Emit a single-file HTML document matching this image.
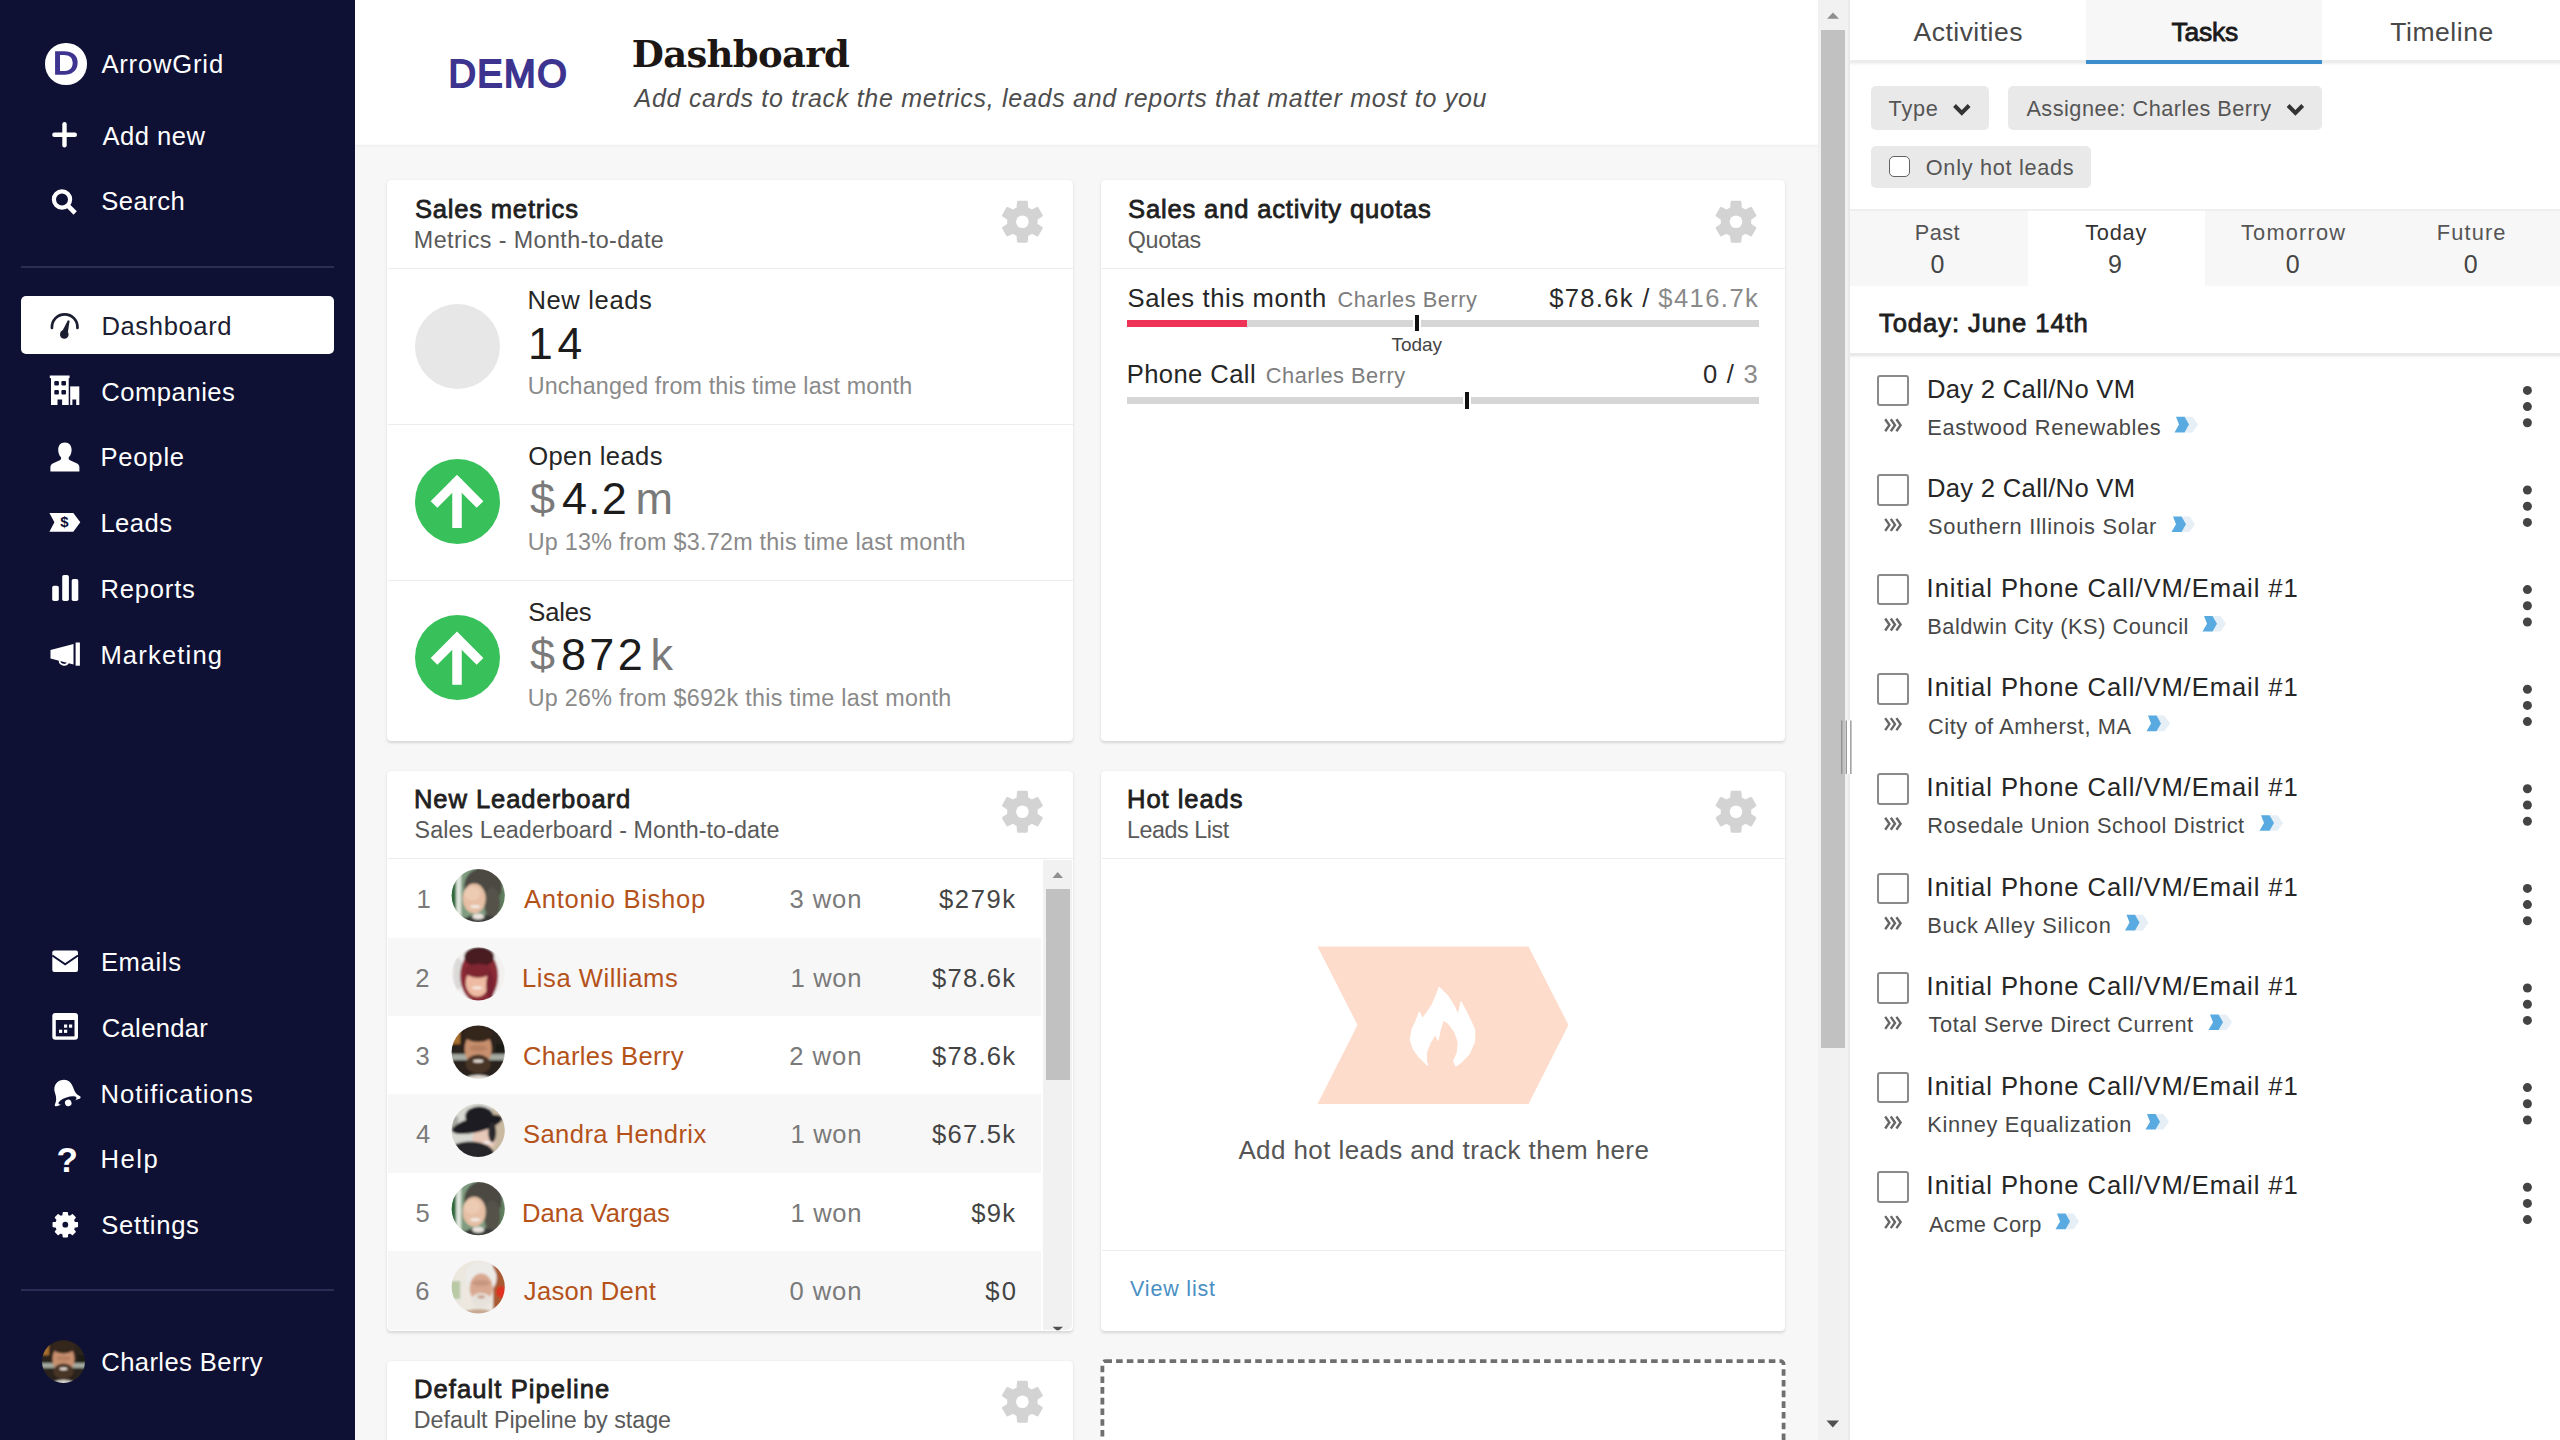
<!DOCTYPE html><html lang="en"><head><meta charset="utf-8"><title>Dashboard</title><style>
html,body{margin:0;padding:0}
body{width:2560px;height:1440px;overflow:hidden;position:relative;background:#f7f7f7;font-family:"Liberation Sans",sans-serif}
.t{position:absolute;white-space:pre;display:block}
.abs{position:absolute}
#side{position:absolute;left:0;top:0;width:355px;height:1440px;background:#0e1034}
#hdr{position:absolute;left:355px;top:0;width:1463px;height:144px;background:#fff}
#hdr:after{content:'';position:absolute;left:0;top:144px;width:100%;height:4px;background:linear-gradient(#fff,#efefef 45%,#f4f4f4 70%,#f7f7f7)}
.card{position:absolute;background:#fff;border-radius:4px;box-shadow:0 1.5px 3px rgba(0,0,0,.13),0 0 1px rgba(0,0,0,.06)}
.hl{position:absolute;height:1.6px;background:#ececec}
#right{position:absolute;left:1850px;top:0;width:710px;height:1440px;background:#fff}
.btn{position:absolute;background:#e9e9e9;border-radius:5px}
.cb{position:absolute;box-sizing:border-box;background:#fff;border:2px solid #8a8a8a;border-radius:3px}
svg{position:absolute;left:0;top:0;overflow:visible}
</style></head><body>
<div id="hdr"></div>
<div class="card" style="left:386.8px;top:180.4px;width:685.8px;height:560.2px"></div>
<div class="card" style="left:1100.8px;top:180.4px;width:684.6px;height:560.2px"></div>
<div class="card" style="left:386.8px;top:770.5px;width:685.8px;height:560.2px"></div>
<div class="card" style="left:1100.8px;top:770.5px;width:684.6px;height:560.2px"></div>
<div class="card" style="left:386.8px;top:1360.6px;width:685.8px;height:200px"></div>
<div class="hl" style="left:387.5px;top:267.5px;width:685px"></div>
<div class="hl" style="left:1101.5px;top:267.5px;width:684px"></div>
<div class="hl" style="left:387.5px;top:857.5px;width:685px"></div>
<div class="hl" style="left:1101.5px;top:857.5px;width:684px"></div>
<div class="hl" style="left:387.5px;top:423.7px;width:685px"></div>
<div class="hl" style="left:387.5px;top:579.6px;width:685px"></div>
<div class="hl" style="left:1101.5px;top:1249.5px;width:684px"></div>
<div class="abs" style="left:387.5px;top:937.8px;width:653.2px;height:78.3px;background:#f7f7f7"></div>
<div class="abs" style="left:387.5px;top:1094.4px;width:653.2px;height:78.3px;background:#f7f7f7"></div>
<div class="abs" style="left:387.5px;top:1251.0px;width:653.2px;height:79.3px;background:#f7f7f7"></div>
<div class="abs" style="left:1043px;top:859.5px;width:29px;height:470.8px;background:#f1f1f1;border-bottom-right-radius:5px"></div>
<div class="abs" style="left:1045.5px;top:889px;width:24.5px;height:190.8px;background:#c1c1c1"></div>
<div class="abs" style="left:1100.5px;top:1359.3px;width:685px;height:200px;background:#fff;border-radius:4px"></div>
<div class="abs" style="left:1126.7px;top:320px;width:632px;height:7px;background:#d6d6d6"></div>
<div class="abs" style="left:1126.7px;top:320px;width:120.3px;height:7px;background:#ee3356"></div>
<div class="abs" style="left:1412.5px;top:315px;width:4px;height:16px;background:#111;border-left:2px solid #fff;border-right:2px solid #fff"></div>
<div class="abs" style="left:1126.7px;top:397.3px;width:632px;height:7px;background:#d6d6d6"></div>
<div class="abs" style="left:1463.3px;top:391.5px;width:4px;height:17px;background:#111;border-left:2px solid #fff;border-right:2px solid #fff"></div>
<div class="abs" style="left:414.5px;top:304px;width:85px;height:85px;border-radius:50%;background:#e8e7e8"></div>
<div class="abs" style="left:414.5px;top:458.5px;width:85px;height:85px;border-radius:50%;background:#38c05a"></div>
<div class="abs" style="left:414.5px;top:615.3px;width:85px;height:85px;border-radius:50%;background:#38c05a"></div>
<div class="abs" style="left:1817.5px;top:0;width:30px;height:1440px;background:#f1f1f1"></div>
<div class="abs" style="left:1847.5px;top:0;width:3px;height:1440px;background:#e9e9eb"></div>
<div class="abs" style="left:1821px;top:29.5px;width:24px;height:1018px;background:#c1c1c1"></div>
<div id="right"></div>
<div class="abs" style="left:2086px;top:0;width:236.3px;height:60px;background:#f7f7f7"></div>
<div class="abs" style="left:1850px;top:60px;width:710px;height:3px;background:#ececec"></div>
<div class="abs" style="left:1850px;top:63px;width:710px;height:3px;background:linear-gradient(#f3f3f3,#fff)"></div>
<div class="abs" style="left:2086px;top:60px;width:236.3px;height:4px;background:#3c8dcb"></div>
<div class="btn" style="left:1870.8px;top:86px;width:118.4px;height:43.5px"></div>
<div class="btn" style="left:2008px;top:86px;width:314.3px;height:43.5px"></div>
<div class="btn" style="left:1870.8px;top:145.6px;width:220px;height:42.6px"></div>
<div class="cb" style="left:1888.8px;top:156px;width:21.4px;height:21px;border:1.8px solid #626262;border-radius:5px"></div>
<div class="abs" style="left:1850px;top:209px;width:710px;height:77px;background:#f7f7f7;border-top:2px solid #efefef;box-sizing:border-box"></div>
<div class="abs" style="left:2027.5px;top:211px;width:177px;height:75px;background:#fff"></div>
<div class="abs" style="left:1850px;top:353px;width:710px;height:3px;background:#e9e9e9"></div>
<div class="abs" style="left:1850px;top:356px;width:710px;height:3px;background:linear-gradient(#f4f4f4,#fff)"></div>
<div class="cb" style="left:1877.2px;top:374.6px;width:31.8px;height:31.5px"></div>
<div class="cb" style="left:1877.2px;top:474.2px;width:31.8px;height:31.5px"></div>
<div class="cb" style="left:1877.2px;top:573.8px;width:31.8px;height:31.5px"></div>
<div class="cb" style="left:1877.2px;top:673.4px;width:31.8px;height:31.5px"></div>
<div class="cb" style="left:1877.2px;top:773.0px;width:31.8px;height:31.5px"></div>
<div class="cb" style="left:1877.2px;top:872.6px;width:31.8px;height:31.5px"></div>
<div class="cb" style="left:1877.2px;top:972.2px;width:31.8px;height:31.5px"></div>
<div class="cb" style="left:1877.2px;top:1071.8px;width:31.8px;height:31.5px"></div>
<div class="cb" style="left:1877.2px;top:1171.4px;width:31.8px;height:31.5px"></div>
<div id="side"></div>
<div class="abs" style="left:21.3px;top:266px;width:313px;height:2px;background:#2b2d55"></div>
<div class="abs" style="left:21.3px;top:1289px;width:313px;height:2px;background:#2b2d55"></div>
<div class="abs" style="left:21.3px;top:296.3px;width:313px;height:58px;background:#fff;border-radius:5px"></div>
<div class="abs" style="left:45px;top:43px;width:41.5px;height:41.5px;border-radius:50%;background:#fff"></div>
<svg width="2560" height="1440" viewBox="0 0 2560 1440"><defs><filter id="avb" x="-20%" y="-20%" width="140%" height="140%"><feGaussianBlur stdDeviation="1.1"/></filter></defs>
<path d="M1017.7 208.2 L1018.2 201.9 L1026.6 201.9 L1027.1 208.2 L1031.8 210.9 L1037.4 208.2 L1041.6 215.5 L1036.4 219.0 L1036.4 224.4 L1041.6 227.9 L1037.4 235.2 L1031.8 232.5 L1027.1 235.2 L1026.6 241.5 L1018.2 241.5 L1017.7 235.2 L1013.0 232.5 L1007.4 235.2 L1003.2 227.9 L1008.4 224.4 L1008.4 219.0 L1003.2 215.5 L1007.4 208.2 L1013.0 210.9Z" fill="#d3d3d3" stroke="#d3d3d3" stroke-width="2.4" stroke-linejoin="round"/><circle cx="1022.4" cy="221.7" r="6.3" fill="#fff"/>
<path d="M1731.3 208.2 L1731.8 201.9 L1740.2 201.9 L1740.7 208.2 L1745.4 210.9 L1751.0 208.2 L1755.2 215.5 L1750.0 219.0 L1750.0 224.4 L1755.2 227.9 L1751.0 235.2 L1745.4 232.5 L1740.7 235.2 L1740.2 241.5 L1731.8 241.5 L1731.3 235.2 L1726.6 232.5 L1721.0 235.2 L1716.8 227.9 L1722.0 224.4 L1722.0 219.0 L1716.8 215.5 L1721.0 208.2 L1726.6 210.9Z" fill="#d3d3d3" stroke="#d3d3d3" stroke-width="2.4" stroke-linejoin="round"/><circle cx="1736" cy="221.7" r="6.3" fill="#fff"/>
<path d="M1017.7 798.2 L1018.2 791.9 L1026.6 791.9 L1027.1 798.2 L1031.8 800.9 L1037.4 798.2 L1041.6 805.5 L1036.4 809.0 L1036.4 814.4 L1041.6 817.9 L1037.4 825.2 L1031.8 822.5 L1027.1 825.2 L1026.6 831.5 L1018.2 831.5 L1017.7 825.2 L1013.0 822.5 L1007.4 825.2 L1003.2 817.9 L1008.4 814.4 L1008.4 809.0 L1003.2 805.5 L1007.4 798.2 L1013.0 800.9Z" fill="#d3d3d3" stroke="#d3d3d3" stroke-width="2.4" stroke-linejoin="round"/><circle cx="1022.4" cy="811.7" r="6.3" fill="#fff"/>
<path d="M1731.3 798.2 L1731.8 791.9 L1740.2 791.9 L1740.7 798.2 L1745.4 800.9 L1751.0 798.2 L1755.2 805.5 L1750.0 809.0 L1750.0 814.4 L1755.2 817.9 L1751.0 825.2 L1745.4 822.5 L1740.7 825.2 L1740.2 831.5 L1731.8 831.5 L1731.3 825.2 L1726.6 822.5 L1721.0 825.2 L1716.8 817.9 L1722.0 814.4 L1722.0 809.0 L1716.8 805.5 L1721.0 798.2 L1726.6 800.9Z" fill="#d3d3d3" stroke="#d3d3d3" stroke-width="2.4" stroke-linejoin="round"/><circle cx="1736" cy="811.7" r="6.3" fill="#fff"/>
<path d="M1017.7 1388.2 L1018.2 1381.9 L1026.6 1381.9 L1027.1 1388.2 L1031.8 1390.9 L1037.4 1388.2 L1041.6 1395.5 L1036.4 1399.0 L1036.4 1404.4 L1041.6 1407.9 L1037.4 1415.2 L1031.8 1412.5 L1027.1 1415.2 L1026.6 1421.5 L1018.2 1421.5 L1017.7 1415.2 L1013.0 1412.5 L1007.4 1415.2 L1003.2 1407.9 L1008.4 1404.4 L1008.4 1399.0 L1003.2 1395.5 L1007.4 1388.2 L1013.0 1390.9Z" fill="#d3d3d3" stroke="#d3d3d3" stroke-width="2.4" stroke-linejoin="round"/><circle cx="1022.4" cy="1401.7" r="6.3" fill="#fff"/>
<rect x="1102.4" y="1361.2" width="681.2" height="200" rx="3" fill="none" stroke="#6f6f6f" stroke-width="3.8" stroke-dasharray="6.6 4.1"/>
<g fill="none" stroke="#fff" stroke-width="9.5" stroke-linecap="butt" stroke-linejoin="miter"><path d="M457 528 V479"/><path d="M434 504.5 L457 481.5 L480 504.5"/></g>
<g fill="none" stroke="#fff" stroke-width="9.5" stroke-linecap="butt" stroke-linejoin="miter"><path d="M457 684.8 V635.8"/><path d="M434 661.3 L457 638.3 L480 661.3"/></g>
<path d="M1827 18.7 L1833 12.5 L1839 18.7Z" fill="#8f8f8f"/>
<path d="M1826.5 1420.5 L1839 1420.5 L1832.8 1427.5Z" fill="#505050"/>
<path d="M1052.5 878 L1057.7 872 L1063 878Z" fill="#8f8f8f"/>
<path d="M1052.5 1326.8 L1063 1326.8 L1059 1330.3 L1056.5 1330.3Z" fill="#505050"/>
<rect x="1846.2" y="720.5" width="4.6" height="53.5" fill="#fff"/>
<rect x="1841.1000000000001" y="720.5" width="1.3" height="53.5" fill="#8e8e8e"/>
<rect x="1845.6000000000001" y="720.5" width="1.3" height="53.5" fill="#8e8e8e"/>
<rect x="1850.2" y="720.5" width="1.3" height="53.5" fill="#8e8e8e"/>
<path d="M1317.5 946.5 H1528.5 L1568.5 1025 L1528.5 1104 H1317.5 L1357.5 1025Z" fill="#fddccb"/>
<path d="M1439.2 987.4 L1447.8 996.0 L1453.7 1005.2 L1458.3 1015.1 L1461.0 1001.9 L1466.2 1011.8 L1471.5 1022.4 L1474.8 1030.3 L1474.4 1042.1 L1469.1 1054.0 L1461.6 1061.9 L1455.7 1065.9 L1453.7 1061.3 L1457.3 1052.7 L1458.3 1042.1 L1454.6 1031.6 L1448.0 1023.0 L1443.2 1020.0 L1440.1 1030.3 L1438.1 1040.2 L1435.5 1034.5 L1430.2 1042.4 L1426.3 1052.7 L1426.4 1061.3 L1427.6 1065.2 L1419.0 1056.9 L1413.1 1048.7 L1410.3 1039.5 L1412.1 1029.2 L1416.1 1021.0 L1419.4 1012.1 L1422.2 1018.7 L1426.7 1013.1 L1431.9 1005.2 L1435.9 996.2Z" fill="#fff" stroke="#fff" stroke-width="1.2" stroke-linejoin="round"/>
<path d="M1954.5 105.5 L1961.8 112.8 L1969.1 105.5" fill="none" stroke="#333" stroke-width="4"/>
<path d="M2288.1 105.5 L2295.4 112.8 L2302.7000000000003 105.5" fill="none" stroke="#333" stroke-width="4"/>
<path d="M1885.2 419.3 L1889.4 425.3 L1885.2 431.3" fill="none" stroke="#666" stroke-width="2.4"/>
<path d="M1890.8 419.3 L1895.0 425.3 L1890.8 431.3" fill="none" stroke="#666" stroke-width="2.4"/>
<path d="M1896.4 419.3 L1900.6 425.3 L1896.4 431.3" fill="none" stroke="#666" stroke-width="2.4"/>
<path d="M2183.5 416.8 H2192.5 L2198.0 424.6 L2192.5 432.4 H2183.5 L2188.0 424.6Z" fill="#e6eef6"/>
<path d="M2176.0 416.8 H2184.5 L2189.0 424.6 L2184.5 432.4 H2174.5 L2179.0 424.6Z" fill="#58aae0"/>
<circle cx="2527.4" cy="390.4" r="4.5" fill="#444"/>
<circle cx="2527.4" cy="406.6" r="4.5" fill="#444"/>
<circle cx="2527.4" cy="422.8" r="4.5" fill="#444"/>
<path d="M1885.2 518.9 L1889.4 524.9 L1885.2 530.9" fill="none" stroke="#666" stroke-width="2.4"/>
<path d="M1890.8 518.9 L1895.0 524.9 L1890.8 530.9" fill="none" stroke="#666" stroke-width="2.4"/>
<path d="M1896.4 518.9 L1900.6 524.9 L1896.4 530.9" fill="none" stroke="#666" stroke-width="2.4"/>
<path d="M2180.5 516.4 H2189.5 L2195.0 524.2 L2189.5 532.0 H2180.5 L2185.0 524.2Z" fill="#e6eef6"/>
<path d="M2173.0 516.4 H2181.5 L2186.0 524.2 L2181.5 532.0 H2171.5 L2176.0 524.2Z" fill="#58aae0"/>
<circle cx="2527.4" cy="490.0" r="4.5" fill="#444"/>
<circle cx="2527.4" cy="506.2" r="4.5" fill="#444"/>
<circle cx="2527.4" cy="522.4" r="4.5" fill="#444"/>
<path d="M1885.2 618.5 L1889.4 624.5 L1885.2 630.5" fill="none" stroke="#666" stroke-width="2.4"/>
<path d="M1890.8 618.5 L1895.0 624.5 L1890.8 630.5" fill="none" stroke="#666" stroke-width="2.4"/>
<path d="M1896.4 618.5 L1900.6 624.5 L1896.4 630.5" fill="none" stroke="#666" stroke-width="2.4"/>
<path d="M2211.5 616.0 H2220.5 L2226.0 623.8 L2220.5 631.6 H2211.5 L2216.0 623.8Z" fill="#e6eef6"/>
<path d="M2204.0 616.0 H2212.5 L2217.0 623.8 L2212.5 631.6 H2202.5 L2207.0 623.8Z" fill="#58aae0"/>
<circle cx="2527.4" cy="589.6" r="4.5" fill="#444"/>
<circle cx="2527.4" cy="605.8" r="4.5" fill="#444"/>
<circle cx="2527.4" cy="622.0" r="4.5" fill="#444"/>
<path d="M1885.2 718.1 L1889.4 724.1 L1885.2 730.1" fill="none" stroke="#666" stroke-width="2.4"/>
<path d="M1890.8 718.1 L1895.0 724.1 L1890.8 730.1" fill="none" stroke="#666" stroke-width="2.4"/>
<path d="M1896.4 718.1 L1900.6 724.1 L1896.4 730.1" fill="none" stroke="#666" stroke-width="2.4"/>
<path d="M2155.5 715.6 H2164.5 L2170.0 723.4 L2164.5 731.2 H2155.5 L2160.0 723.4Z" fill="#e6eef6"/>
<path d="M2148.0 715.6 H2156.5 L2161.0 723.4 L2156.5 731.2 H2146.5 L2151.0 723.4Z" fill="#58aae0"/>
<circle cx="2527.4" cy="689.2" r="4.5" fill="#444"/>
<circle cx="2527.4" cy="705.4" r="4.5" fill="#444"/>
<circle cx="2527.4" cy="721.6" r="4.5" fill="#444"/>
<path d="M1885.2 817.7 L1889.4 823.7 L1885.2 829.7" fill="none" stroke="#666" stroke-width="2.4"/>
<path d="M1890.8 817.7 L1895.0 823.7 L1890.8 829.7" fill="none" stroke="#666" stroke-width="2.4"/>
<path d="M1896.4 817.7 L1900.6 823.7 L1896.4 829.7" fill="none" stroke="#666" stroke-width="2.4"/>
<path d="M2268.5 815.2 H2277.5 L2283.0 823.0 L2277.5 830.8 H2268.5 L2273.0 823.0Z" fill="#e6eef6"/>
<path d="M2261.0 815.2 H2269.5 L2274.0 823.0 L2269.5 830.8 H2259.5 L2264.0 823.0Z" fill="#58aae0"/>
<circle cx="2527.4" cy="788.8" r="4.5" fill="#444"/>
<circle cx="2527.4" cy="805.0" r="4.5" fill="#444"/>
<circle cx="2527.4" cy="821.2" r="4.5" fill="#444"/>
<path d="M1885.2 917.3 L1889.4 923.3 L1885.2 929.3" fill="none" stroke="#666" stroke-width="2.4"/>
<path d="M1890.8 917.3 L1895.0 923.3 L1890.8 929.3" fill="none" stroke="#666" stroke-width="2.4"/>
<path d="M1896.4 917.3 L1900.6 923.3 L1896.4 929.3" fill="none" stroke="#666" stroke-width="2.4"/>
<path d="M2134.0 914.8 H2143.0 L2148.5 922.6 L2143.0 930.4 H2134.0 L2138.5 922.6Z" fill="#e6eef6"/>
<path d="M2126.5 914.8 H2135.0 L2139.5 922.6 L2135.0 930.4 H2125.0 L2129.5 922.6Z" fill="#58aae0"/>
<circle cx="2527.4" cy="888.4" r="4.5" fill="#444"/>
<circle cx="2527.4" cy="904.6" r="4.5" fill="#444"/>
<circle cx="2527.4" cy="920.8" r="4.5" fill="#444"/>
<path d="M1885.2 1016.9 L1889.4 1022.9 L1885.2 1028.9" fill="none" stroke="#666" stroke-width="2.4"/>
<path d="M1890.8 1016.9 L1895.0 1022.9 L1890.8 1028.9" fill="none" stroke="#666" stroke-width="2.4"/>
<path d="M1896.4 1016.9 L1900.6 1022.9 L1896.4 1028.9" fill="none" stroke="#666" stroke-width="2.4"/>
<path d="M2217.5 1014.4 H2226.5 L2232.0 1022.2 L2226.5 1030.0 H2217.5 L2222.0 1022.2Z" fill="#e6eef6"/>
<path d="M2210.0 1014.4 H2218.5 L2223.0 1022.2 L2218.5 1030.0 H2208.5 L2213.0 1022.2Z" fill="#58aae0"/>
<circle cx="2527.4" cy="988.0" r="4.5" fill="#444"/>
<circle cx="2527.4" cy="1004.2" r="4.5" fill="#444"/>
<circle cx="2527.4" cy="1020.4" r="4.5" fill="#444"/>
<path d="M1885.2 1116.5 L1889.4 1122.5 L1885.2 1128.5" fill="none" stroke="#666" stroke-width="2.4"/>
<path d="M1890.8 1116.5 L1895.0 1122.5 L1890.8 1128.5" fill="none" stroke="#666" stroke-width="2.4"/>
<path d="M1896.4 1116.5 L1900.6 1122.5 L1896.4 1128.5" fill="none" stroke="#666" stroke-width="2.4"/>
<path d="M2154.5 1114.0 H2163.5 L2169.0 1121.8 L2163.5 1129.6 H2154.5 L2159.0 1121.8Z" fill="#e6eef6"/>
<path d="M2147.0 1114.0 H2155.5 L2160.0 1121.8 L2155.5 1129.6 H2145.5 L2150.0 1121.8Z" fill="#58aae0"/>
<circle cx="2527.4" cy="1087.6" r="4.5" fill="#444"/>
<circle cx="2527.4" cy="1103.8" r="4.5" fill="#444"/>
<circle cx="2527.4" cy="1120.0" r="4.5" fill="#444"/>
<path d="M1885.2 1216.1 L1889.4 1222.1 L1885.2 1228.1" fill="none" stroke="#666" stroke-width="2.4"/>
<path d="M1890.8 1216.1 L1895.0 1222.1 L1890.8 1228.1" fill="none" stroke="#666" stroke-width="2.4"/>
<path d="M1896.4 1216.1 L1900.6 1222.1 L1896.4 1228.1" fill="none" stroke="#666" stroke-width="2.4"/>
<path d="M2064.5 1213.6 H2073.5 L2079.0 1221.4 L2073.5 1229.2 H2064.5 L2069.0 1221.4Z" fill="#e6eef6"/>
<path d="M2057.0 1213.6 H2065.5 L2070.0 1221.4 L2065.5 1229.2 H2055.5 L2060.0 1221.4Z" fill="#58aae0"/>
<circle cx="2527.4" cy="1187.2" r="4.5" fill="#444"/>
<circle cx="2527.4" cy="1203.4" r="4.5" fill="#444"/>
<circle cx="2527.4" cy="1219.6" r="4.5" fill="#444"/>
<clipPath id="av0"><circle cx="478.2" cy="895.5" r="26.6"/></clipPath><g clip-path="url(#av0)"><g filter="url(#avb)"><rect x="448.2" y="865.5" width="60.0" height="60.0" fill="#7f9c80"/><rect x="448.2" y="865.5" width="8.0" height="60.0" fill="#2f6b3a"/><rect x="456.2" y="865.5" width="5.0" height="60.0" fill="#dfe6dc"/><rect x="490.2" y="890.5" width="18.0" height="22.0" fill="#5f7f5f"/><ellipse cx="483.2" cy="886.5" rx="19.0" ry="19.0" fill="#4c4a42"/><ellipse cx="492.2" cy="903.5" rx="8.0" ry="16.0" fill="#55534a"/><ellipse cx="474.2" cy="898.5" rx="11.5" ry="15.0" fill="#e6bfa5"/><ellipse cx="472.2" cy="893.5" rx="8.0" ry="7.0" fill="#edcbb3"/><ellipse cx="475.2" cy="906.5" rx="5.0" ry="1.6" fill="#f4ece6"/><ellipse cx="480.2" cy="924.5" rx="20.0" ry="10.0" fill="#3a3a38"/><ellipse cx="478.2" cy="916.5" rx="6.0" ry="3.0" fill="#e9e4de"/></g></g>
<clipPath id="av1"><circle cx="478.2" cy="973.8" r="26.6"/></clipPath><g clip-path="url(#av1)"><g filter="url(#avb)"><rect x="448.2" y="943.8" width="60.0" height="60.0" fill="#f3f1f0"/><ellipse cx="458.2" cy="973.8" rx="5.0" ry="16.0" fill="#dcdad9"/><ellipse cx="479.2" cy="975.8" rx="19.0" ry="27.0" fill="#8c2a35"/><ellipse cx="479.2" cy="956.8" rx="15.0" ry="10.0" fill="#4a1b22"/><ellipse cx="477.2" cy="982.8" rx="11.5" ry="14.0" fill="#eebba2"/><ellipse cx="478.2" cy="970.8" rx="13.0" ry="7.0" fill="#7f2530"/><ellipse cx="477.2" cy="987.8" rx="5.0" ry="1.5" fill="#f6e9e2"/><ellipse cx="490.2" cy="985.8" rx="4.0" ry="14.0" fill="#7a2230"/></g></g>
<clipPath id="av2"><circle cx="478.2" cy="1052.1" r="26.6"/></clipPath><g clip-path="url(#av2)"><g filter="url(#avb)"><rect x="448.2" y="1022.1" width="60.0" height="60.0" fill="#2c221b"/><rect x="448.2" y="1022.1" width="12.0" height="22.0" fill="#a86f2e"/><rect x="448.2" y="1054.1" width="60.0" height="6.0" fill="#a5aba1"/><rect x="496.2" y="1044.1" width="12.0" height="8.0" fill="#1d1a18"/><ellipse cx="478.2" cy="1049.1" rx="13.5" ry="18.0" fill="#c8906e"/><ellipse cx="478.2" cy="1034.1" rx="14.5" ry="8.0" fill="#35271f"/><ellipse cx="478.2" cy="1064.1" rx="12.5" ry="9.5" fill="#4a3528"/><ellipse cx="478.2" cy="1061.1" rx="5.0" ry="1.5" fill="#efe6df"/><ellipse cx="478.2" cy="1048.1" rx="9.0" ry="3.0" fill="#b57f60"/><ellipse cx="478.2" cy="1083.1" rx="17.0" ry="8.0" fill="#dedad2"/></g></g>
<clipPath id="av3"><circle cx="478.2" cy="1130.4" r="26.6"/></clipPath><g clip-path="url(#av3)"><g filter="url(#avb)"><rect x="448.2" y="1100.4" width="60.0" height="60.0" fill="#d8d8d3"/><rect x="492.2" y="1100.4" width="16.0" height="60.0" fill="#c9b9a0"/><rect x="448.2" y="1116.4" width="10.0" height="14.0" fill="#a9aaa2"/><ellipse cx="484.2" cy="1138.4" rx="11.5" ry="14.0" fill="#e8c8b8"/><ellipse cx="488.2" cy="1142.4" rx="5.0" ry="1.4" fill="#f5ece8"/><ellipse cx="477.2" cy="1124.4" rx="26.0" ry="7.5" fill="#1f1f23" transform="rotate(-14 477.2 1124.4)"/><ellipse cx="479.2" cy="1116.4" rx="14.0" ry="10.0" fill="#1f1f23"/><ellipse cx="470.2" cy="1154.4" rx="24.0" ry="13.0" fill="#25252a"/><ellipse cx="492.2" cy="1132.4" rx="4.0" ry="10.0" fill="#2a2a2e"/></g></g>
<clipPath id="av4"><circle cx="478.2" cy="1208.7" r="26.6"/></clipPath><g clip-path="url(#av4)"><g filter="url(#avb)"><rect x="448.2" y="1178.7" width="60.0" height="60.0" fill="#7f9c80"/><rect x="448.2" y="1178.7" width="8.0" height="60.0" fill="#2f6b3a"/><rect x="456.2" y="1178.7" width="5.0" height="60.0" fill="#dfe6dc"/><rect x="490.2" y="1203.7" width="18.0" height="22.0" fill="#5f7f5f"/><ellipse cx="483.2" cy="1199.7" rx="19.0" ry="19.0" fill="#4c4a42"/><ellipse cx="492.2" cy="1216.7" rx="8.0" ry="16.0" fill="#55534a"/><ellipse cx="474.2" cy="1211.7" rx="11.5" ry="15.0" fill="#e6bfa5"/><ellipse cx="472.2" cy="1206.7" rx="8.0" ry="7.0" fill="#edcbb3"/><ellipse cx="475.2" cy="1219.7" rx="5.0" ry="1.6" fill="#f4ece6"/><ellipse cx="480.2" cy="1237.7" rx="20.0" ry="10.0" fill="#3a3a38"/><ellipse cx="478.2" cy="1229.7" rx="6.0" ry="3.0" fill="#e9e4de"/></g></g>
<clipPath id="av5"><circle cx="478.2" cy="1287.0" r="26.6"/></clipPath><g clip-path="url(#av5)"><g filter="url(#avb)"><rect x="448.2" y="1257.0" width="60.0" height="60.0" fill="#ece8e0"/><rect x="448.2" y="1281.0" width="12.0" height="18.0" fill="#b9c9a6"/><rect x="493.2" y="1257.0" width="15.0" height="60.0" fill="#a85a30"/><ellipse cx="501.2" cy="1292.0" rx="5.0" ry="6.0" fill="#e03020"/><ellipse cx="481.2" cy="1278.0" rx="15.5" ry="16.0" fill="#ecebe8"/><ellipse cx="481.2" cy="1288.0" rx="11.5" ry="14.5" fill="#d9a890"/><ellipse cx="481.2" cy="1283.0" rx="9.0" ry="3.0" fill="#c79680"/><ellipse cx="481.2" cy="1300.0" rx="10.0" ry="7.0" fill="#e6e1db"/><ellipse cx="481.2" cy="1297.0" rx="4.0" ry="1.4" fill="#c79680"/><ellipse cx="478.2" cy="1318.0" rx="20.0" ry="9.0" fill="#c8a890"/></g></g>
<clipPath id="avme"><circle cx="63.5" cy="1361.5" r="21.5"/></clipPath><g clip-path="url(#avme)"><g filter="url(#avb)"><rect x="39.3" y="1337.3" width="48.5" height="48.5" fill="#2c221b"/><rect x="39.3" y="1337.3" width="9.7" height="17.8" fill="#a86f2e"/><rect x="39.3" y="1363.1" width="48.5" height="4.8" fill="#a5aba1"/><rect x="78.0" y="1355.0" width="9.7" height="6.5" fill="#1d1a18"/><ellipse cx="63.5" cy="1359.1" rx="10.9" ry="14.5" fill="#c8906e"/><ellipse cx="63.5" cy="1347.0" rx="11.7" ry="6.5" fill="#35271f"/><ellipse cx="63.5" cy="1371.2" rx="10.1" ry="7.7" fill="#4a3528"/><ellipse cx="63.5" cy="1368.8" rx="4.0" ry="1.2" fill="#efe6df"/><ellipse cx="63.5" cy="1358.3" rx="7.3" ry="2.4" fill="#b57f60"/><ellipse cx="63.5" cy="1386.6" rx="13.7" ry="6.5" fill="#dedad2"/></g></g>
<g stroke="#fff" stroke-width="4.4" stroke-linecap="round"><path d="M54.4 134.7 H74.8"/><path d="M64.5 124.3 V145.2"/></g>
<circle cx="62" cy="199.5" r="8.1" fill="none" stroke="#fff" stroke-width="4.2"/><path d="M67.8 205.6 L75.2 213" stroke="#fff" stroke-width="4.6"/>
<path d="M51.93 328 A12.8 12.8 0 1 1 77.47 328" fill="none" stroke="#1b1d31" stroke-width="2.7" stroke-linecap="round"/><path d="M61.2 333.2 L67.9 320.2 L69.6 320.8 L67.4 335.2Z" fill="#1b1d31"/><circle cx="64.3" cy="334.4" r="4.3" fill="#1b1d31"/>
<g fill="#fff"><rect x="49.8" y="375.5" width="19.8" height="2.6"/><rect x="51" y="376" width="17.7" height="29"/><rect x="70.2" y="386.4" width="9.1" height="18.6"/></g>
<g fill="#0e1034"><rect x="54.3" y="381" width="4.6" height="4.6" rx="1"/><rect x="61.4" y="381" width="4.6" height="4.6" rx="1"/><rect x="54.3" y="390" width="4.6" height="4.6" rx="1"/><rect x="61.4" y="390" width="4.6" height="4.6" rx="1"/><rect x="57.5" y="399.5" width="4.6" height="6"/><rect x="72.4" y="399.5" width="3.8" height="6"/></g>
<path d="M64.8 442.5 c4.6 0 6.8 3.2 6.8 7.2 c0 3 -1 5.6 -2.6 7.4 c-.6 .8 -.5 2.3 .5 2.9 l7.6 3.6 c1.7 .9 2.3 2.2 2.3 4 v3.9 h-29 v-3.9 c0 -1.8 .6 -3.1 2.3 -4 l7.6 -3.6 c1 -.6 1.1 -2.1 .5 -2.9 c-1.6 -1.8 -2.6 -4.4 -2.6 -7.4 c0 -4 2.200 -7.2 6.600 -7.2z" fill="#fff"/>
<path d="M49.4 513 H73.3 L80.3 522.3 L73.3 531.7 H49.4 L54.4 522.3Z" fill="#fff"/>
<g fill="#fff"><rect x="52.2" y="585.8" width="6.6" height="15.3" rx="1.8"/><rect x="62.2" y="575" width="6.7" height="26.1" rx="1.8"/><rect x="71.7" y="579" width="6.6" height="22.1" rx="1.8"/></g>
<path d="M50.5 650 L73.5 644 V664.5 L50.5 658.5Z" fill="#fff"/><rect x="75.6" y="642.5" width="4.3" height="23.2" fill="#fff"/><path d="M59.5 660.5 a4.6 4.6 0 0 0 9 1" fill="none" stroke="#fff" stroke-width="1.8"/>
<rect x="52.3" y="950.6" width="25.7" height="21.3" rx="2" fill="#fff"/><path d="M52.3 955.5 L65.2 964.3 L78 955.5" fill="none" stroke="#0e1034" stroke-width="2"/>
<rect x="52.3" y="1013" width="25.7" height="26.8" rx="3" fill="#fff"/><rect x="55.8" y="1020" width="18.7" height="16.4" fill="#0e1034"/>
<g fill="#fff"><rect x="69" y="1024.5" width="3.2" height="3.2"/><rect x="64" y="1024.5" width="3.2" height="3.2"/><rect x="64" y="1029.7" width="3.2" height="3.2"/><rect x="59" y="1029.7" width="3.2" height="3.2"/></g>
<g transform="rotate(-18 65 1093)"><path d="M65 1079.5 c-6 0 -9.500 4.5 -9.500 10.500 c0 5 -1 8 -3.500 10.500 c-1 1 -.5 2.500 1 2.500 h24 c1.500 0 2 -1.500 1 -2.500 c-2.500 -2.500 -3.500 -5.500 -3.500 -10.500 c0 -6 -3.500 -10.500 -9.500 -10.500z" fill="#fff"/><ellipse cx="65" cy="1101" rx="9.5" ry="3.3" fill="#0e1034"/><circle cx="65" cy="1103.5" r="3.3" fill="#fff"/></g>
<path d="M63.1 1215.7 L63.4 1212.7 L67.2 1212.7 L67.5 1215.7 L70.1 1216.7 L72.4 1214.9 L75.1 1217.6 L73.3 1219.9 L74.3 1222.5 L77.3 1222.8 L77.3 1226.6 L74.3 1226.9 L73.3 1229.5 L75.1 1231.8 L72.4 1234.5 L70.1 1232.7 L67.5 1233.7 L67.2 1236.7 L63.4 1236.7 L63.1 1233.7 L60.5 1232.7 L58.2 1234.5 L55.5 1231.8 L57.3 1229.5 L56.3 1226.9 L53.3 1226.6 L53.3 1222.8 L56.3 1222.5 L57.3 1219.9 L55.5 1217.6 L58.2 1214.9 L60.5 1216.7Z" fill="#fff" stroke="#fff" stroke-width="1.5" stroke-linejoin="round"/><circle cx="65.3" cy="1224.7" r="2.9" fill="#0e1034"/>
</svg>
<nav aria-label="Main navigation">
<span class="t" style="left:101.38px;top:51.70px;font:normal 400 25.6px/25.6px 'Liberation Sans',sans-serif;color:#ffffff;letter-spacing:0.819px;">ArrowGrid</span>
<span class="t" style="left:102.38px;top:123.70px;font:normal 400 25.6px/25.6px 'Liberation Sans',sans-serif;color:#ffffff;letter-spacing:0.501px;">Add new</span>
<span class="t" style="left:101.25px;top:189.40px;font:normal 400 25.6px/25.6px 'Liberation Sans',sans-serif;color:#ffffff;letter-spacing:0.454px;">Search</span>
<span class="t" style="left:101.38px;top:313.90px;font:normal 400 25.6px/25.6px 'Liberation Sans',sans-serif;color:#1b1d31;letter-spacing:0.627px;">Dashboard</span>
<span class="t" style="left:101.25px;top:379.65px;font:normal 400 25.6px/25.6px 'Liberation Sans',sans-serif;color:#ffffff;letter-spacing:0.526px;">Companies</span>
<span class="t" style="left:100.38px;top:445.40px;font:normal 400 25.6px/25.6px 'Liberation Sans',sans-serif;color:#ffffff;letter-spacing:0.807px;">People</span>
<span class="t" style="left:100.38px;top:511.15px;font:normal 400 25.6px/25.6px 'Liberation Sans',sans-serif;color:#ffffff;letter-spacing:0.454px;">Leads</span>
<span class="t" style="left:100.38px;top:576.90px;font:normal 400 25.6px/25.6px 'Liberation Sans',sans-serif;color:#ffffff;letter-spacing:0.821px;">Reports</span>
<span class="t" style="left:100.38px;top:642.65px;font:normal 400 25.6px/25.6px 'Liberation Sans',sans-serif;color:#ffffff;letter-spacing:1.170px;">Marketing</span>
<span class="t" style="left:100.88px;top:949.80px;font:normal 400 25.6px/25.6px 'Liberation Sans',sans-serif;color:#ffffff;letter-spacing:0.651px;">Emails</span>
<span class="t" style="left:101.75px;top:1015.65px;font:normal 400 25.6px/25.6px 'Liberation Sans',sans-serif;color:#ffffff;letter-spacing:0.325px;">Calendar</span>
<span class="t" style="left:100.38px;top:1081.50px;font:normal 400 25.6px/25.6px 'Liberation Sans',sans-serif;color:#ffffff;letter-spacing:1.095px;">Notifications</span>
<span class="t" style="left:100.38px;top:1147.35px;font:normal 400 25.6px/25.6px 'Liberation Sans',sans-serif;color:#ffffff;letter-spacing:1.533px;">Help</span>
<span class="t" style="left:101.25px;top:1213.20px;font:normal 400 25.6px/25.6px 'Liberation Sans',sans-serif;color:#ffffff;letter-spacing:0.742px;">Settings</span>
<span class="t" style="left:101.25px;top:1350.30px;font:normal 400 25.6px/25.6px 'Liberation Sans',sans-serif;color:#ffffff;letter-spacing:0.404px;">Charles Berry</span>
<span class="t" style="left:52.95px;top:48.20px;font:normal 400 30.5px/30.5px 'Liberation Sans',sans-serif;color:#3e3591;-webkit-text-stroke:1.4px;transform:scaleX(1.16);transform-origin:0 0;">D</span>
<span class="t" style="left:56.48px;top:1141.60px;font:normal 700 35px/35px 'Liberation Sans',sans-serif;color:#ffffff;">?</span>
</nav>
<header>
<span class="t" style="left:448.38px;top:54.60px;font:normal 400 38px/38px 'Liberation Sans',sans-serif;color:#3d3490;letter-spacing:1.453px;-webkit-text-stroke:1.9px;">DEMO</span>
<span class="t" style="left:631.75px;top:36.00px;font:normal 700 37px/37px 'DejaVu Serif',serif;color:#1c1714;letter-spacing:-0.696px;">Dashboard</span>
<span class="t" style="left:634.62px;top:86.40px;font:italic 400 25px/25px 'Liberation Sans',sans-serif;color:#4d4d4d;letter-spacing:0.716px;">Add cards to track the metrics, leads and reports that matter most to you</span>
</header>
<main>
<span class="t" style="left:414.95px;top:197.00px;font:normal 400 25.6px/25.6px 'Liberation Sans',sans-serif;color:#1f1f1f;letter-spacing:0.783px;-webkit-text-stroke:0.8px;">Sales metrics</span>
<span class="t" style="left:413.82px;top:229.30px;font:normal 400 23.3px/23.3px 'Liberation Sans',sans-serif;color:#5a5a5a;letter-spacing:0.416px;">Metrics - Month-to-date</span>
<span class="t" style="left:1128.05px;top:197.00px;font:normal 400 25.6px/25.6px 'Liberation Sans',sans-serif;color:#1f1f1f;letter-spacing:0.820px;-webkit-text-stroke:0.8px;">Sales and activity quotas</span>
<span class="t" style="left:1127.67px;top:229.30px;font:normal 400 23.3px/23.3px 'Liberation Sans',sans-serif;color:#5a5a5a;letter-spacing:-0.300px;">Quotas</span>
<span class="t" style="left:413.95px;top:787.00px;font:normal 400 25.6px/25.6px 'Liberation Sans',sans-serif;color:#1f1f1f;letter-spacing:0.916px;-webkit-text-stroke:0.8px;">New Leaderboard</span>
<span class="t" style="left:414.57px;top:819.30px;font:normal 400 23.3px/23.3px 'Liberation Sans',sans-serif;color:#5a5a5a;letter-spacing:0.074px;">Sales Leaderboard - Month-to-date</span>
<span class="t" style="left:1127.05px;top:787.00px;font:normal 400 25.6px/25.6px 'Liberation Sans',sans-serif;color:#1f1f1f;letter-spacing:0.922px;-webkit-text-stroke:0.8px;">Hot leads</span>
<span class="t" style="left:1126.92px;top:819.30px;font:normal 400 23.3px/23.3px 'Liberation Sans',sans-serif;color:#5a5a5a;letter-spacing:-0.434px;">Leads List</span>
<span class="t" style="left:413.95px;top:1377.00px;font:normal 400 25.6px/25.6px 'Liberation Sans',sans-serif;color:#1f1f1f;letter-spacing:1.067px;-webkit-text-stroke:0.8px;">Default Pipeline</span>
<span class="t" style="left:413.82px;top:1409.30px;font:normal 400 23.3px/23.3px 'Liberation Sans',sans-serif;color:#5a5a5a;letter-spacing:-0.020px;">Default Pipeline by stage</span>
<span class="t" style="left:527.38px;top:288.00px;font:normal 400 25.6px/25.6px 'Liberation Sans',sans-serif;color:#262626;letter-spacing:0.631px;">New leads</span>
<span class="t" style="left:528.12px;top:321.70px;font:normal 400 44.5px/44.5px 'Liberation Sans',sans-serif;color:#1c1c1c;letter-spacing:4.625px;">14</span>
<span class="t" style="left:527.75px;top:374.70px;font:normal 400 23.3px/23.3px 'Liberation Sans',sans-serif;color:#8a8a8a;letter-spacing:0.147px;">Unchanged from this time last month</span>
<span class="t" style="left:528.25px;top:443.80px;font:normal 400 25.6px/25.6px 'Liberation Sans',sans-serif;color:#262626;letter-spacing:0.363px;">Open leads</span>
<span class="t" style="left:530.00px;top:476.00px;font:normal 400 45px/45px 'Liberation Sans',sans-serif;color:#7a7a7a;">$</span>
<span class="t" style="left:561.90px;top:476.00px;font:normal 400 45px/45px 'Liberation Sans',sans-serif;color:#1c1c1c;letter-spacing:1.157px;">4.2</span>
<span class="t" style="left:635.50px;top:476.00px;font:normal 400 45px/45px 'Liberation Sans',sans-serif;color:#7a7a7a;">m</span>
<span class="t" style="left:527.75px;top:530.50px;font:normal 400 23.3px/23.3px 'Liberation Sans',sans-serif;color:#8a8a8a;letter-spacing:0.274px;">Up 13% from $3.72m this time last month</span>
<span class="t" style="left:528.25px;top:599.90px;font:normal 400 25.6px/25.6px 'Liberation Sans',sans-serif;color:#262626;letter-spacing:-0.164px;">Sales</span>
<span class="t" style="left:530.00px;top:632.40px;font:normal 400 45px/45px 'Liberation Sans',sans-serif;color:#7a7a7a;">$</span>
<span class="t" style="left:560.90px;top:632.40px;font:normal 400 45px/45px 'Liberation Sans',sans-serif;color:#1c1c1c;letter-spacing:3.342px;">872</span>
<span class="t" style="left:650.50px;top:632.40px;font:normal 400 45px/45px 'Liberation Sans',sans-serif;color:#7a7a7a;">k</span>
<span class="t" style="left:527.75px;top:687.20px;font:normal 400 23.3px/23.3px 'Liberation Sans',sans-serif;color:#8a8a8a;letter-spacing:0.282px;">Up 26% from $692k this time last month</span>
<span class="t" style="left:1127.55px;top:285.70px;font:normal 400 25.6px/25.6px 'Liberation Sans',sans-serif;color:#262626;letter-spacing:0.636px;">Sales this month</span>
<span class="t" style="left:1337.38px;top:288.70px;font:normal 400 21.8px/21.8px 'Liberation Sans',sans-serif;color:#7d7d7d;letter-spacing:0.527px;">Charles Berry</span>
<span class="t" style="left:1549.25px;top:285.70px;font:normal 400 25.6px/25.6px 'Liberation Sans',sans-serif;color:#2a2a2a;letter-spacing:1.294px;">$78.6k /</span>
<span class="t" style="left:1658.25px;top:285.70px;font:normal 400 25.6px/25.6px 'Liberation Sans',sans-serif;color:#8a8a8a;letter-spacing:1.420px;">$416.7k</span>
<span class="t" style="left:1391.62px;top:335.00px;font:normal 400 19px/19px 'Liberation Sans',sans-serif;color:#444;letter-spacing:-0.051px;">Today</span>
<span class="t" style="left:1126.67px;top:361.70px;font:normal 400 25.6px/25.6px 'Liberation Sans',sans-serif;color:#262626;letter-spacing:0.422px;">Phone Call</span>
<span class="t" style="left:1265.78px;top:364.70px;font:normal 400 21.8px/21.8px 'Liberation Sans',sans-serif;color:#7d7d7d;letter-spacing:0.510px;">Charles Berry</span>
<span class="t" style="left:1703.00px;top:361.70px;font:normal 400 25.6px/25.6px 'Liberation Sans',sans-serif;color:#2a2a2a;letter-spacing:1.260px;">0 /</span>
<span class="t" style="left:1743.50px;top:361.70px;font:normal 400 25.6px/25.6px 'Liberation Sans',sans-serif;color:#8a8a8a;">3</span>
<span class="t" style="left:416.50px;top:887.40px;font:normal 400 25.6px/25.6px 'Liberation Sans',sans-serif;color:#7a7a7a;">1</span>
<span class="t" style="left:524.08px;top:887.40px;font:normal 400 25.6px/25.6px 'Liberation Sans',sans-serif;color:#b4521a;letter-spacing:0.682px;">Antonio Bishop</span>
<span class="t" style="left:789.50px;top:887.40px;font:normal 400 25.6px/25.6px 'Liberation Sans',sans-serif;color:#7a7a7a;letter-spacing:0.904px;">3 won</span>
<span class="t" style="left:939.05px;top:887.40px;font:normal 400 25.6px/25.6px 'Liberation Sans',sans-serif;color:#444;letter-spacing:1.567px;">$279k</span>
<span class="t" style="left:415.25px;top:965.70px;font:normal 400 25.6px/25.6px 'Liberation Sans',sans-serif;color:#7a7a7a;">2</span>
<span class="t" style="left:522.08px;top:965.70px;font:normal 400 25.6px/25.6px 'Liberation Sans',sans-serif;color:#b4521a;letter-spacing:0.527px;">Lisa Williams</span>
<span class="t" style="left:790.50px;top:965.70px;font:normal 400 25.6px/25.6px 'Liberation Sans',sans-serif;color:#7a7a7a;letter-spacing:0.654px;">1 won</span>
<span class="t" style="left:932.05px;top:965.70px;font:normal 400 25.6px/25.6px 'Liberation Sans',sans-serif;color:#444;letter-spacing:1.231px;">$78.6k</span>
<span class="t" style="left:415.50px;top:1044.00px;font:normal 400 25.6px/25.6px 'Liberation Sans',sans-serif;color:#7a7a7a;">3</span>
<span class="t" style="left:522.95px;top:1044.00px;font:normal 400 25.6px/25.6px 'Liberation Sans',sans-serif;color:#b4521a;letter-spacing:0.346px;">Charles Berry</span>
<span class="t" style="left:789.25px;top:1044.00px;font:normal 400 25.6px/25.6px 'Liberation Sans',sans-serif;color:#7a7a7a;letter-spacing:0.967px;">2 won</span>
<span class="t" style="left:932.05px;top:1044.00px;font:normal 400 25.6px/25.6px 'Liberation Sans',sans-serif;color:#444;letter-spacing:1.231px;">$78.6k</span>
<span class="t" style="left:415.88px;top:1122.30px;font:normal 400 25.6px/25.6px 'Liberation Sans',sans-serif;color:#7a7a7a;">4</span>
<span class="t" style="left:522.95px;top:1122.30px;font:normal 400 25.6px/25.6px 'Liberation Sans',sans-serif;color:#b4521a;letter-spacing:0.424px;">Sandra Hendrix</span>
<span class="t" style="left:790.50px;top:1122.30px;font:normal 400 25.6px/25.6px 'Liberation Sans',sans-serif;color:#7a7a7a;letter-spacing:0.654px;">1 won</span>
<span class="t" style="left:932.05px;top:1122.30px;font:normal 400 25.6px/25.6px 'Liberation Sans',sans-serif;color:#444;letter-spacing:1.231px;">$67.5k</span>
<span class="t" style="left:415.50px;top:1200.60px;font:normal 400 25.6px/25.6px 'Liberation Sans',sans-serif;color:#7a7a7a;">5</span>
<span class="t" style="left:522.08px;top:1200.60px;font:normal 400 25.6px/25.6px 'Liberation Sans',sans-serif;color:#b4521a;letter-spacing:0.035px;">Dana Vargas</span>
<span class="t" style="left:790.50px;top:1200.60px;font:normal 400 25.6px/25.6px 'Liberation Sans',sans-serif;color:#7a7a7a;letter-spacing:0.654px;">1 won</span>
<span class="t" style="left:971.25px;top:1200.60px;font:normal 400 25.6px/25.6px 'Liberation Sans',sans-serif;color:#444;letter-spacing:1.268px;">$9k</span>
<span class="t" style="left:415.25px;top:1278.90px;font:normal 400 25.6px/25.6px 'Liberation Sans',sans-serif;color:#7a7a7a;">6</span>
<span class="t" style="left:523.83px;top:1278.90px;font:normal 400 25.6px/25.6px 'Liberation Sans',sans-serif;color:#b4521a;letter-spacing:0.272px;">Jason Dent</span>
<span class="t" style="left:789.50px;top:1278.90px;font:normal 400 25.6px/25.6px 'Liberation Sans',sans-serif;color:#7a7a7a;letter-spacing:0.904px;">0 won</span>
<span class="t" style="left:985.25px;top:1278.90px;font:normal 400 25.6px/25.6px 'Liberation Sans',sans-serif;color:#444;letter-spacing:2.270px;">$0</span>
<span class="t" style="left:1238.38px;top:1137.40px;font:normal 400 26px/26px 'Liberation Sans',sans-serif;color:#555;letter-spacing:0.408px;">Add hot leads and track them here</span>
<span class="t" style="left:1130.08px;top:1279.30px;font:normal 400 21.5px/21.5px 'Liberation Sans',sans-serif;color:#4a8fc4;letter-spacing:0.819px;">View list</span>
</main>
<aside aria-label="Tasks">
<span class="t" style="left:1913.58px;top:19.40px;font:normal 400 26.5px/26.5px 'Liberation Sans',sans-serif;color:#484848;letter-spacing:0.474px;">Activities</span>
<span class="t" style="left:2171.45px;top:19.40px;font:normal 400 26.5px/26.5px 'Liberation Sans',sans-serif;color:#1a1a1a;letter-spacing:-0.250px;-webkit-text-stroke:0.8px;">Tasks</span>
<span class="t" style="left:2390.18px;top:19.40px;font:normal 400 26.5px/26.5px 'Liberation Sans',sans-serif;color:#484848;letter-spacing:0.558px;">Timeline</span>
<span class="t" style="left:1888.60px;top:97.70px;font:normal 400 21.7px/21.7px 'Liberation Sans',sans-serif;color:#555;letter-spacing:0.771px;">Type</span>
<span class="t" style="left:2026.38px;top:97.70px;font:normal 400 21.7px/21.7px 'Liberation Sans',sans-serif;color:#555;letter-spacing:0.495px;">Assignee: Charles Berry</span>
<span class="t" style="left:1925.80px;top:157.00px;font:normal 400 21.7px/21.7px 'Liberation Sans',sans-serif;color:#555;letter-spacing:0.701px;">Only hot leads</span>
<span class="t" style="left:1914.75px;top:222.00px;font:normal 400 21.8px/21.8px 'Liberation Sans',sans-serif;color:#555;letter-spacing:0.436px;">Past</span>
<span class="t" style="left:1930.50px;top:252.20px;font:normal 400 25px/25px 'Liberation Sans',sans-serif;color:#444;">0</span>
<span class="t" style="left:2085.20px;top:222.00px;font:normal 400 21.8px/21.8px 'Liberation Sans',sans-serif;color:#333;letter-spacing:0.745px;">Today</span>
<span class="t" style="left:2107.88px;top:252.20px;font:normal 400 25px/25px 'Liberation Sans',sans-serif;color:#444;">9</span>
<span class="t" style="left:2241.00px;top:222.00px;font:normal 400 21.8px/21.8px 'Liberation Sans',sans-serif;color:#555;letter-spacing:1.187px;">Tomorrow</span>
<span class="t" style="left:2285.80px;top:252.20px;font:normal 400 25px/25px 'Liberation Sans',sans-serif;color:#444;">0</span>
<span class="t" style="left:2436.75px;top:222.00px;font:normal 400 21.8px/21.8px 'Liberation Sans',sans-serif;color:#555;letter-spacing:1.150px;">Future</span>
<span class="t" style="left:2463.80px;top:252.20px;font:normal 400 25px/25px 'Liberation Sans',sans-serif;color:#444;">0</span>
<span class="t" style="left:1878.97px;top:310.60px;font:normal 400 25.6px/25.6px 'Liberation Sans',sans-serif;color:#1f1f1f;letter-spacing:0.927px;-webkit-text-stroke:0.8px;">Today: June 14th</span>
<span class="t" style="left:1926.88px;top:376.60px;font:normal 400 25.6px/25.6px 'Liberation Sans',sans-serif;color:#262626;letter-spacing:0.321px;">Day 2 Call/No VM</span>
<span class="t" style="left:1927.25px;top:416.80px;font:normal 400 21.8px/21.8px 'Liberation Sans',sans-serif;color:#484848;letter-spacing:0.643px;">Eastwood Renewables</span>
<span class="t" style="left:1926.88px;top:476.20px;font:normal 400 25.6px/25.6px 'Liberation Sans',sans-serif;color:#262626;letter-spacing:0.321px;">Day 2 Call/No VM</span>
<span class="t" style="left:1928.00px;top:516.40px;font:normal 400 21.8px/21.8px 'Liberation Sans',sans-serif;color:#484848;letter-spacing:0.743px;">Southern Illinois Solar</span>
<span class="t" style="left:1926.62px;top:575.80px;font:normal 400 25.6px/25.6px 'Liberation Sans',sans-serif;color:#262626;letter-spacing:0.926px;">Initial Phone Call/VM/Email #1</span>
<span class="t" style="left:1927.25px;top:616.00px;font:normal 400 21.8px/21.8px 'Liberation Sans',sans-serif;color:#484848;letter-spacing:0.537px;">Baldwin City (KS) Council</span>
<span class="t" style="left:1926.62px;top:675.40px;font:normal 400 25.6px/25.6px 'Liberation Sans',sans-serif;color:#262626;letter-spacing:0.926px;">Initial Phone Call/VM/Email #1</span>
<span class="t" style="left:1927.88px;top:715.60px;font:normal 400 21.8px/21.8px 'Liberation Sans',sans-serif;color:#484848;letter-spacing:0.587px;">City of Amherst, MA</span>
<span class="t" style="left:1926.62px;top:775.00px;font:normal 400 25.6px/25.6px 'Liberation Sans',sans-serif;color:#262626;letter-spacing:0.926px;">Initial Phone Call/VM/Email #1</span>
<span class="t" style="left:1927.25px;top:815.20px;font:normal 400 21.8px/21.8px 'Liberation Sans',sans-serif;color:#484848;letter-spacing:0.568px;">Rosedale Union School District</span>
<span class="t" style="left:1926.62px;top:874.60px;font:normal 400 25.6px/25.6px 'Liberation Sans',sans-serif;color:#262626;letter-spacing:0.926px;">Initial Phone Call/VM/Email #1</span>
<span class="t" style="left:1927.25px;top:914.80px;font:normal 400 21.8px/21.8px 'Liberation Sans',sans-serif;color:#484848;letter-spacing:0.753px;">Buck Alley Silicon</span>
<span class="t" style="left:1926.62px;top:974.20px;font:normal 400 25.6px/25.6px 'Liberation Sans',sans-serif;color:#262626;letter-spacing:0.926px;">Initial Phone Call/VM/Email #1</span>
<span class="t" style="left:1928.50px;top:1014.40px;font:normal 400 21.8px/21.8px 'Liberation Sans',sans-serif;color:#484848;letter-spacing:0.557px;">Total Serve Direct Current</span>
<span class="t" style="left:1926.62px;top:1073.80px;font:normal 400 25.6px/25.6px 'Liberation Sans',sans-serif;color:#262626;letter-spacing:0.926px;">Initial Phone Call/VM/Email #1</span>
<span class="t" style="left:1927.25px;top:1114.00px;font:normal 400 21.8px/21.8px 'Liberation Sans',sans-serif;color:#484848;letter-spacing:0.703px;">Kinney Equalization</span>
<span class="t" style="left:1926.62px;top:1173.40px;font:normal 400 25.6px/25.6px 'Liberation Sans',sans-serif;color:#262626;letter-spacing:0.926px;">Initial Phone Call/VM/Email #1</span>
<span class="t" style="left:1928.88px;top:1213.60px;font:normal 400 21.8px/21.8px 'Liberation Sans',sans-serif;color:#484848;letter-spacing:0.434px;">Acme Corp</span>
</aside>
<span class="t" style="left:60.2px;top:513.3px;font:700 15px/18px 'Liberation Sans',sans-serif;color:#0e1034">$</span>
</body></html>
